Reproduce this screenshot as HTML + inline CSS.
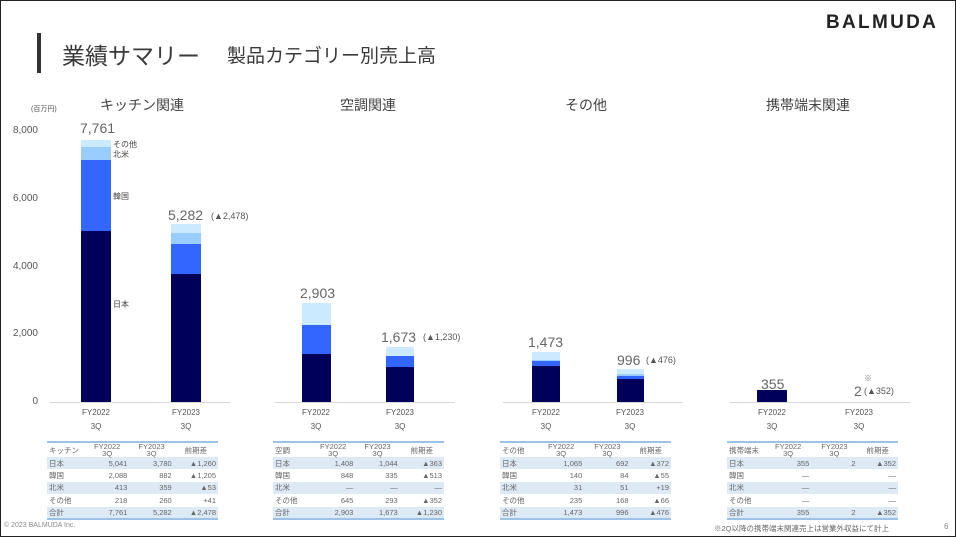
<!DOCTYPE html>
<html><head><meta charset="utf-8"><style>
*{margin:0;padding:0;box-sizing:border-box}
body{width:956px;height:537px;overflow:hidden;background:#fff;font-family:"Liberation Sans","Noto Sans CJK JP",sans-serif;color:#444;position:relative}
.a{position:absolute;white-space:nowrap}
.b{position:absolute}
.n{background:#00005a}.k{background:#3366ff}.u{background:#99ccff}.o{background:#cceaff}
.ax{position:absolute;height:1px;background:#d8d8d8;top:402px}
.yl{position:absolute;font-size:10px;color:#555;text-align:right;width:30px;left:8px}
.tot{font-size:14px;color:#666}
.xl{font-size:8px;color:#555;text-align:center;width:40px;line-height:14px}
.ct{font-size:14px;color:#444}
table{position:absolute;border-collapse:collapse;font-size:7.5px;color:#666;border-top:2px solid #9cc3e6;border-bottom:2px solid #9cc3e6;width:171px}
td{height:12.4px;padding:0 2px;text-align:right}
td:first-child{text-align:left;width:38px}
tr.h td{height:14px;line-height:7px;text-align:center}
tr.h td:first-child{text-align:left}
tr.s td{background:#dde9f5}
</style></head><body>
<div class="b" style="left:0;top:0;width:956px;height:537px;border:1px solid #222"></div>
<div class="b" style="left:37px;top:33px;width:4px;height:40px;background:#333"></div>
<div class="a" style="left:62px;top:37px;font-size:23px;color:#3a3a3a">業績サマリー</div>
<div class="a" style="left:227px;top:41px;font-size:19px;color:#3a3a3a">製品カテゴリー別売上高</div>
<div class="a" style="left:826px;top:12px;font-size:19px;font-weight:bold;color:#222;letter-spacing:2.3px">BALMUDA</div>

<div class="a" style="left:31px;top:104px;font-size:7px;color:#555">(百万円)</div>
<div class="yl" style="top:125px">8,000</div>
<div class="yl" style="top:193px">6,000</div>
<div class="yl" style="top:261px">4,000</div>
<div class="yl" style="top:328px">2,000</div>
<div class="yl" style="top:396px">0</div>

<div class="ax" style="left:50px;width:180px"></div>
<div class="ax" style="left:275px;width:180px"></div>
<div class="ax" style="left:503px;width:180px"></div>
<div class="ax" style="left:730px;width:180px"></div>

<div class="a ct" style="left:100px;top:95px">キッチン関連</div>
<div class="a ct" style="left:340px;top:95px">空調関連</div>
<div class="a ct" style="left:565px;top:95px">その他</div>
<div class="a ct" style="left:766px;top:95px">携帯端末関連</div>

<div class="b n" style="left:81px;top:231px;width:30px;height:171px"></div>
<div class="b k" style="left:81px;top:160px;width:30px;height:71px"></div>
<div class="b u" style="left:81px;top:147px;width:30px;height:13px"></div>
<div class="b o" style="left:81px;top:140px;width:30px;height:7px"></div>
<div class="b n" style="left:171px;top:274px;width:30px;height:128px"></div>
<div class="b k" style="left:171px;top:244px;width:30px;height:30px"></div>
<div class="b u" style="left:171px;top:233px;width:30px;height:11px"></div>
<div class="b o" style="left:171px;top:224px;width:30px;height:9px"></div>
<div class="a tot" style="left:80px;top:120px">7,761</div>
<div class="a tot" style="left:168px;top:207px">5,282</div>
<div class="a" style="left:211px;top:211px;font-size:9px;color:#555">(▲2,478)</div>
<div class="a" style="left:113px;top:139px;font-size:8px;color:#444">その他</div>
<div class="a" style="left:113px;top:149px;font-size:8px;color:#444">北米</div>
<div class="a" style="left:113px;top:191px;font-size:8px;color:#444">韓国</div>
<div class="a" style="left:113px;top:299px;font-size:8px;color:#444">日本</div>
<div class="a xl" style="left:76px;top:406px">FY2022<br>3Q</div>
<div class="a xl" style="left:166px;top:406px">FY2023<br>3Q</div>

<div class="b n" style="left:302px;top:354px;width:29px;height:48px"></div>
<div class="b k" style="left:302px;top:325px;width:29px;height:29px"></div>
<div class="b o" style="left:302px;top:303px;width:29px;height:22px"></div>
<div class="b n" style="left:386px;top:367px;width:28px;height:35px"></div>
<div class="b k" style="left:386px;top:356px;width:28px;height:11px"></div>
<div class="b o" style="left:386px;top:347px;width:28px;height:9px"></div>
<div class="a tot" style="left:300px;top:285px">2,903</div>
<div class="a tot" style="left:381px;top:329px">1,673</div>
<div class="a" style="left:423px;top:332px;font-size:9px;color:#555">(▲1,230)</div>
<div class="a xl" style="left:296px;top:406px">FY2022<br>3Q</div>
<div class="a xl" style="left:380px;top:406px">FY2023<br>3Q</div>

<div class="b n" style="left:532px;top:366px;width:28px;height:36px"></div>
<div class="b k" style="left:532px;top:361px;width:28px;height:5px"></div>
<div class="b u" style="left:532px;top:360px;width:28px;height:1px"></div>
<div class="b o" style="left:532px;top:352px;width:28px;height:8px"></div>
<div class="b n" style="left:617px;top:379px;width:27px;height:23px"></div>
<div class="b k" style="left:617px;top:376px;width:27px;height:3px"></div>
<div class="b u" style="left:617px;top:374px;width:27px;height:2px"></div>
<div class="b o" style="left:617px;top:369px;width:27px;height:5px"></div>
<div class="a tot" style="left:528px;top:334px">1,473</div>
<div class="a tot" style="left:617px;top:352px">996</div>
<div class="a" style="left:646px;top:355px;font-size:9px;color:#555">(▲476)</div>
<div class="a xl" style="left:526px;top:406px">FY2022<br>3Q</div>
<div class="a xl" style="left:610px;top:406px">FY2023<br>3Q</div>

<div class="b n" style="left:757px;top:390px;width:30px;height:12px"></div>
<div class="a tot" style="left:761px;top:376px">355</div>
<div class="a tot" style="left:854px;top:383px">2</div>
<div class="a" style="left:864px;top:373px;font-size:8px;color:#777">※</div>
<div class="a" style="left:864px;top:386px;font-size:9px;color:#555">(▲352)</div>
<div class="a xl" style="left:752px;top:406px">FY2022<br>3Q</div>
<div class="a xl" style="left:839px;top:406px">FY2023<br>3Q</div>

<table style="left:47px;top:441px">
<tr class="h"><td>キッチン</td><td>FY2022<br>3Q</td><td>FY2023<br>3Q</td><td>前期差</td></tr>
<tr class="s"><td>日本</td><td>5,041</td><td>3,780</td><td>▲1,260</td></tr>
<tr><td>韓国</td><td>2,088</td><td>882</td><td>▲1,205</td></tr>
<tr class="s"><td>北米</td><td>413</td><td>359</td><td>▲53</td></tr>
<tr><td>その他</td><td>218</td><td>260</td><td>+41</td></tr>
<tr class="s"><td>合計</td><td>7,761</td><td>5,282</td><td>▲2,478</td></tr>
</table>
<table style="left:273px;top:441px">
<tr class="h"><td>空調</td><td>FY2022<br>3Q</td><td>FY2023<br>3Q</td><td>前期差</td></tr>
<tr class="s"><td>日本</td><td>1,408</td><td>1,044</td><td>▲363</td></tr>
<tr><td>韓国</td><td>848</td><td>335</td><td>▲513</td></tr>
<tr class="s"><td>北米</td><td>—</td><td>—</td><td>—</td></tr>
<tr><td>その他</td><td>645</td><td>293</td><td>▲352</td></tr>
<tr class="s"><td>合計</td><td>2,903</td><td>1,673</td><td>▲1,230</td></tr>
</table>
<table style="left:500px;top:441px">
<tr class="h"><td>その他</td><td>FY2022<br>3Q</td><td>FY2023<br>3Q</td><td>前期差</td></tr>
<tr class="s"><td>日本</td><td>1,065</td><td>692</td><td>▲372</td></tr>
<tr><td>韓国</td><td>140</td><td>84</td><td>▲55</td></tr>
<tr class="s"><td>北米</td><td>31</td><td>51</td><td>+19</td></tr>
<tr><td>その他</td><td>235</td><td>168</td><td>▲66</td></tr>
<tr class="s"><td>合計</td><td>1,473</td><td>996</td><td>▲476</td></tr>
</table>
<table style="left:727px;top:441px">
<tr class="h"><td>携帯端末</td><td>FY2022<br>3Q</td><td>FY2023<br>3Q</td><td>前期差</td></tr>
<tr class="s"><td>日本</td><td>355</td><td>2</td><td>▲352</td></tr>
<tr><td>韓国</td><td>—</td><td></td><td>—</td></tr>
<tr class="s"><td>北米</td><td>—</td><td></td><td>—</td></tr>
<tr><td>その他</td><td>—</td><td></td><td>—</td></tr>
<tr class="s"><td>合計</td><td>355</td><td>2</td><td>▲352</td></tr>
</table>
<div class="a" style="left:4px;top:522px;font-size:7px;color:#888">© 2023 BALMUDA Inc.</div>
<div class="a" style="left:714px;top:523px;font-size:7.5px;color:#666">※2Q以降の携帯端末関連売上は営業外収益にて計上</div>
<div class="a" style="left:944px;top:522px;font-size:8px;color:#888">6</div>
</body></html>
